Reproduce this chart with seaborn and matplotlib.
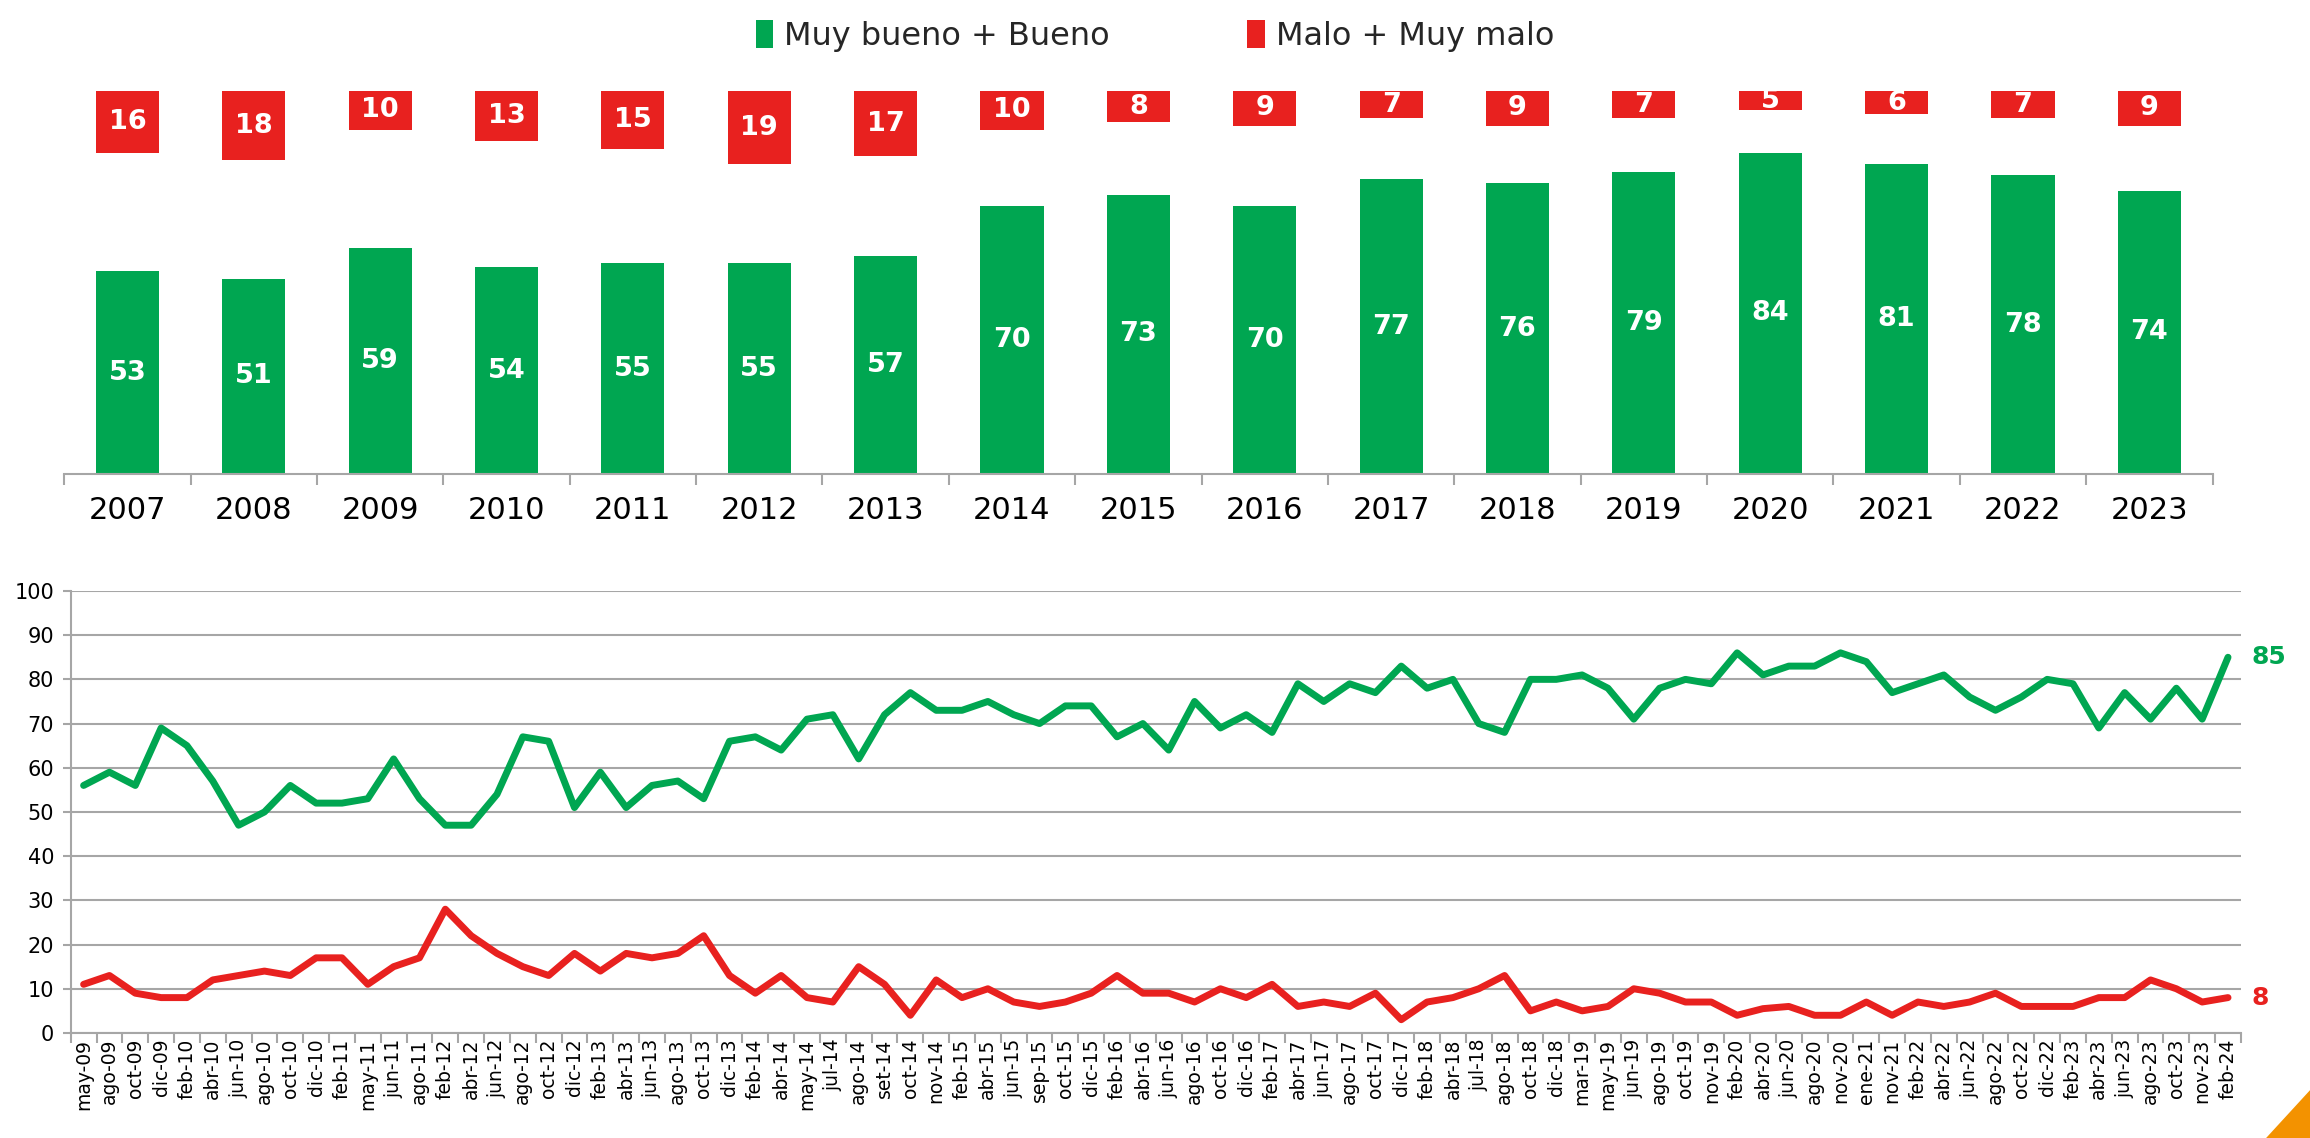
import numpy as np
import pandas as pd
import matplotlib
matplotlib.use("Agg")
import matplotlib.pyplot as plt
import seaborn as sns
from matplotlib.patches import Patch, Polygon

# ---------------- data ----------------
anios = [str(y) for y in range(2007, 2024)]
bueno_anual = [53, 51, 59, 54, 55, 55, 57, 70, 73, 70, 77, 76, 79, 84, 81, 78, 74]
malo_anual = [16, 18, 10, 13, 15, 19, 17, 10, 8, 9, 7, 9, 7, 5, 6, 7, 9]

meses = ["may-09", "ago-09", "oct-09", "dic-09", "feb-10", "abr-10", "jun-10", "ago-10",
         "oct-10", "dic-10", "feb-11", "may-11", "jun-11", "ago-11", "feb-12", "abr-12",
         "jun-12", "ago-12", "oct-12", "dic-12", "feb-13", "abr-13", "jun-13", "ago-13",
         "oct-13", "dic-13", "feb-14", "abr-14", "may-14", "jul-14", "ago-14", "set-14",
         "oct-14", "nov-14", "feb-15", "abr-15", "jun-15", "sep-15", "oct-15", "dic-15",
         "feb-16", "abr-16", "jun-16", "ago-16", "oct-16", "dic-16", "feb-17", "abr-17",
         "jun-17", "ago-17", "oct-17", "dic-17", "feb-18", "abr-18", "jul-18", "ago-18",
         "oct-18", "dic-18", "mar-19", "may-19", "jun-19", "ago-19", "oct-19", "nov-19",
         "feb-20", "abr-20", "jun-20", "ago-20", "nov-20", "ene-21", "nov-21", "feb-22",
         "abr-22", "jun-22", "ago-22", "oct-22", "dic-22", "feb-23", "abr-23", "jun-23",
         "ago-23", "oct-23", "nov-23", "feb-24"]

bueno_mensual = [56, 59, 56, 69, 65, 57, 47, 50, 56, 52, 52, 53, 62, 53,
                 47, 47, 54, 67, 66, 51, 59, 51, 56, 57, 53, 66, 67, 64,
                 71, 72, 62, 72, 77, 73, 73, 75, 72, 70, 74, 74, 67, 70,
                 64, 75, 69, 72, 68, 79, 75, 79, 77, 83, 78, 80, 70, 68,
                 80, 80, 81, 78, 71, 78, 80, 79, 86, 81, 83, 83, 86, 84, 77,
                 79, 81, 76, 73, 76, 80, 79, 69, 77, 71, 78, 71, 85]

malo_mensual = [11, 13, 9, 8, 8, 12, 13, 14, 13, 17, 17, 11, 15, 17,
                28, 22, 18, 15, 13, 18, 14, 18, 17, 18, 22, 13, 9, 13,
                8, 7, 15, 11, 4, 12, 8, 10, 7, 6, 7, 9, 13, 9,
                9, 7, 10, 8, 11, 6, 7, 6, 9, 3, 7, 8, 10, 13,
                5, 7, 5, 6, 10, 9, 7, 7, 4, 5.5, 6, 4, 4, 7, 4,
                7, 6, 7, 9, 6, 6, 6, 8, 8, 12, 10, 7, 8]

serie_bueno = "Muy bueno + Bueno"
serie_malo = "Malo + Muy malo"

VERDE = "#00A651"
ROJO = "#E8211F"
GRIS = "#A6A6A6"

sns.set_theme(style="white")
plt.rcParams['font.family'] = ['DejaVu Sans']

fig = plt.figure(figsize=(23.1, 11.38), dpi=100)

# ---------------- top: annual bars ----------------
ax1 = fig.add_axes([0.0278, 0.5835, 0.9300, 0.3363])
df_a = pd.DataFrame({"anio": anios, "bueno": bueno_anual, "malo": malo_anual})
sns.barplot(data=df_a, x="anio", y="bueno", color=VERDE, width=0.5,
            saturation=1, ax=ax1, linewidth=0)
ax1.set_ylim(0, 100)
ax1.set_xlim(-0.5, len(anios) - 0.5)
ax1.bar_label(ax1.containers[0], label_type="center", color="white",
              fontsize=19.5, fontweight="bold")

ax1r = ax1.twinx()
sns.barplot(data=df_a, x="anio", y="malo", color=ROJO, width=0.5,
            saturation=1, ax=ax1r, linewidth=0)
ax1r.set_ylim(100, 0)
ax1r.bar_label(ax1r.containers[0], label_type="center", color="white",
               fontsize=19.5, fontweight="bold")
ax1r.set_yticks([])
ax1r.set_ylabel("")
ax1r.set_xlabel("")
for s in ax1r.spines.values():
    s.set_visible(False)

ax1.set_yticks([])
ax1.set_ylabel("")
ax1.set_xlabel("")
for name, s in ax1.spines.items():
    s.set_visible(name == "bottom")
ax1.spines["bottom"].set_color(GRIS)
ax1.spines["bottom"].set_linewidth(1.5)
ax1.tick_params(axis="x", which="major", length=0, pad=16, labelsize=22,
                labelcolor="black")
ax1.set_xticks(np.arange(-0.5, len(anios), 1), minor=True)
ax1.tick_params(axis="x", which="minor", length=8, width=1.5, color=GRIS,
                direction="out", bottom=True)

# ---------------- bottom: monthly lines ----------------
ax2 = fig.add_axes([0.0306, 0.0923, 0.9395, 0.3884])
df_m = pd.DataFrame({
    "mes": meses + meses,
    "valor": bueno_mensual + malo_mensual,
    "serie": [serie_bueno] * len(meses) + [serie_malo] * len(meses),
})
sns.lineplot(data=df_m, x="mes", y="valor", hue="serie",
             palette={serie_bueno: VERDE, serie_malo: ROJO},
             linewidth=5, ax=ax2, legend=False, sort=False)
ax2.set_ylim(0, 100)
ax2.set_xlim(-0.5, len(meses) - 0.5)
ax2.set_yticks(np.arange(0, 101, 10))
ax2.yaxis.grid(True, color=GRIS, linewidth=1.5)
ax2.xaxis.grid(False)
ax2.set_axisbelow(True)
ax2.set_xlabel("")
ax2.set_ylabel("")
for name, s in ax2.spines.items():
    s.set_visible(name in ("left", "bottom"))
    s.set_color(GRIS)
    s.set_linewidth(1.5)
ax2.tick_params(axis="y", which="major", length=6, width=1.5, color=GRIS,
                direction="out", left=True, labelsize=15, labelcolor="black", pad=6)
ax2.tick_params(axis="x", which="major", length=0, labelsize=13.5,
                labelcolor="black", labelrotation=90, pad=4)
ax2.set_xticks(np.arange(-0.5, len(meses), 1), minor=True)
ax2.tick_params(axis="x", which="minor", length=7, width=1.5, color=GRIS,
                direction="out", bottom=True)

ax2.annotate(f"{bueno_mensual[-1]:g}", xy=(len(meses) - 1, bueno_mensual[-1]),
             xytext=(17, 0), textcoords="offset points", color=VERDE,
             fontsize=18, fontweight="bold", va="center", ha="left")
ax2.annotate(f"{malo_mensual[-1]:g}", xy=(len(meses) - 1, malo_mensual[-1]),
             xytext=(17, 0), textcoords="offset points", color=ROJO,
             fontsize=18, fontweight="bold", va="center", ha="left")

# ---------------- legend ----------------
handles = [Patch(facecolor=VERDE, edgecolor="none", label=serie_bueno),
           Patch(facecolor=ROJO, edgecolor="none", label=serie_malo)]
fig.legend(handles=handles, loc="upper center", bbox_to_anchor=(0.5, 1.008),
           ncol=2, frameon=False, fontsize=23, handlelength=0.55,
           handleheight=1.0, handletextpad=0.35, columnspacing=4.3)

# decorative corner
fig.add_artist(Polygon([[0.981, 0.0], [1.0, 0.042], [1.0, 0.0]], closed=True,
                       transform=fig.transFigure, facecolor="#F39200",
                       edgecolor="none"))

fig.savefig("out.png", dpi=100, facecolor="white")
